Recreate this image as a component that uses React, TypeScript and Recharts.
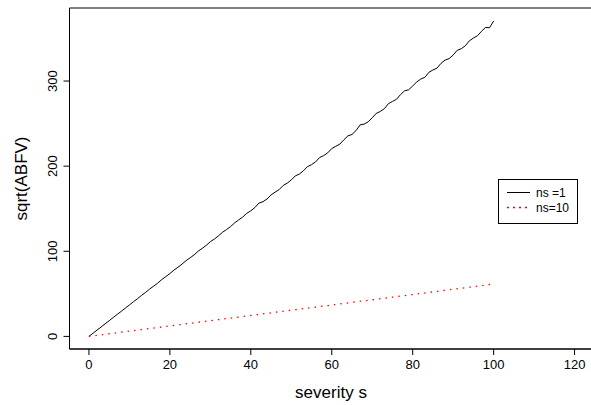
import { LineChart, Line, XAxis, YAxis, ReferenceArea, Label } from 'recharts';

// page has an 8px default margin, drop it so the chart sits at 0,0
document.body.style.margin = '0';
document.body.style.overflow = 'hidden';

const severity = [
  0, 1, 2, 3, 4, 5, 6, 7, 8, 9, 10, 11, 12, 13, 14, 15, 16, 17, 18, 19, 20,
  21, 22, 23, 24, 25, 26, 27, 28, 29, 30, 31, 32, 33, 34, 35, 36, 37, 38, 39, 40,
  41, 42, 43, 44, 45, 46, 47, 48, 49, 50, 51, 52, 53, 54, 55, 56, 57, 58, 59, 60,
  61, 62, 63, 64, 65, 66, 67, 68, 69, 70, 71, 72, 73, 74, 75, 76, 77, 78, 79, 80,
  81, 82, 83, 84, 85, 86, 87, 88, 89, 90, 91, 92, 93, 94, 95, 96, 97, 98, 99, 100,
];

// sqrt(ABFV) for ns = 1
const ns1 = [
  0, 3.7, 7.4, 11.0, 14.8, 18.4, 22.2, 25.9, 29.5, 33.3, 36.9,
  40.8, 44.3, 48.2, 51.7, 55.6, 59.1, 62.6, 66.8, 70.2, 73.8,
  77.9, 81.2, 84.9, 89.0, 92.3, 95.8, 100.1, 103.4, 107.0, 111.2,
  114.4, 118.1, 122.3, 125.5, 129.0, 133.4, 136.8, 140.2, 144.6, 147.5,
  151.3, 156.6, 158.2, 161.4, 166.2, 169.5, 172.4, 177.3, 180.0, 183.8,
  188.6, 190.7, 194.6, 199.4, 201.8, 205.0, 210.1, 212.4, 215.6, 220.7,
  223.4, 225.9, 231.0, 235.6, 237.2, 241.8, 248.5, 249.4, 252.1, 256.8,
  262.0, 264.3, 267.5, 273.4, 276.0, 278.6, 284.1, 288.5, 289.7, 294.2,
  298.9, 302.4, 304.3, 310.2, 313.0, 315.1, 320.8, 324.6, 326.3, 330.5,
  336.1, 338.0, 341.4, 347.2, 350.5, 353.2, 358.4, 363.0, 362.6, 370.5,
];

// sqrt(ABFV) for ns = 10
const ns10Severity = [0, 5, 10, 15, 20, 25, 30, 35, 40, 45, 50, 55, 60, 65, 70, 75, 80, 85, 90, 95, 100];
const ns10 = [0, 3.1, 6.2, 9.2, 12.3, 15.4, 18.5, 21.5, 24.6, 27.7, 30.8, 33.8, 36.9, 40.0, 43.0, 46.1, 49.2, 52.3, 55.4, 58.4, 61.5];

const xTicks = [0, 20, 40, 60, 80, 100, 120];
const yTicks = [0, 100, 200, 300];

const ns1Data = severity.map((s, i) => ({ s, v: ns1[i] }));
const ns10Data = ns10Severity.map((s, i) => ({ s, v: ns10[i] }));

const FONT = '"Liberation Sans", Arial, Helvetica, sans-serif';

const XTick = (props: any) => (
  <text x={props.x} y={369} textAnchor="middle" fontSize={13} fontFamily={FONT} fill="#000">
    {props.payload.value}
  </text>
);

const YTick = (props: any) => (
  <text
    x={57}
    y={props.y}
    transform={`rotate(-90, 57, ${props.y})`}
    textAnchor="middle"
    fontSize={13}
    fontFamily={FONT}
    fill="#000"
  >
    {props.payload.value}
  </text>
);

// drawn by hand on top of the chart, R style legend box
const LegendBox = () => (
  <div
    style={{
      position: 'absolute',
      left: 498,
      top: 179,
      width: 80,
      height: 45,
      border: '1px solid #000',
      background: '#fff',
      boxSizing: 'border-box',
    }}
  >
    <svg width={78} height={43} style={{ display: 'block' }}>
      <line x1={8} x2={31} y1={12.5} y2={12.5} stroke="#000" strokeWidth={1} />
      <text x={37} y={17} fontSize={12} fontFamily={FONT} fill="#000">ns =1</text>
      <line x1={8} x2={31} y1={27.5} y2={27.5} stroke="#ff0000" strokeWidth={1.3} strokeDasharray="2 4" />
      <text x={37} y={32} fontSize={12} fontFamily={FONT} fill="#000">ns=10</text>
    </svg>
  </div>
);

export default function App() {
  return (
    <div style={{ width: 591, height: 405, overflow: 'hidden', background: '#fff', position: 'relative' }}>
      <LineChart width={596} height={405} margin={{ top: 8, right: 2, bottom: 0, left: 0 }}>
        <XAxis
          type="number"
          dataKey="s"
          domain={[-4.8, 124.8]}
          ticks={xTicks}
          allowDataOverflow
          height={56}
          tickSize={6}
          tickLine={{ stroke: '#000' }}
          axisLine={{ stroke: '#000' }}
          tick={<XTick />}
        >
          <Label
            content={() => (
              <text x={331} y={398} textAnchor="middle" fontSize={17} fontFamily={FONT} fill="#000">
                severity s
              </text>
            )}
          />
        </XAxis>
        <YAxis
          type="number"
          dataKey="v"
          domain={[-14.8, 385.8]}
          ticks={yTicks}
          allowDataOverflow
          width={69.5}
          tickSize={6}
          tickLine={{ stroke: '#000' }}
          axisLine={{ stroke: '#000' }}
          tick={<YTick />}
        >
          <Label
            content={() => (
              <text
                x={27}
                y={178.5}
                transform="rotate(-90, 27, 178.5)"
                textAnchor="middle"
                fontSize={17}
                fontFamily={FONT}
                fill="#000"
              >
                sqrt(ABFV)
              </text>
            )}
          />
        </YAxis>
        <ReferenceArea
          x1={-4.8}
          x2={124.8}
          y1={-14.8}
          y2={385.8}
          fill="none"
          stroke="#000"
          strokeWidth={1}
          ifOverflow="visible"
        />
        <Line
          data={ns1Data}
          dataKey="v"
          type="linear"
          stroke="#000"
          strokeWidth={1}
          dot={false}
          isAnimationActive={false}
          name="ns =1"
        />
        <Line
          data={ns10Data}
          dataKey="v"
          type="linear"
          stroke="#ff0000"
          strokeWidth={1.3}
          strokeDasharray="1.5 5"
          dot={false}
          isAnimationActive={false}
          name="ns=10"
        />
      </LineChart>
      <LegendBox />
    </div>
  );
}
